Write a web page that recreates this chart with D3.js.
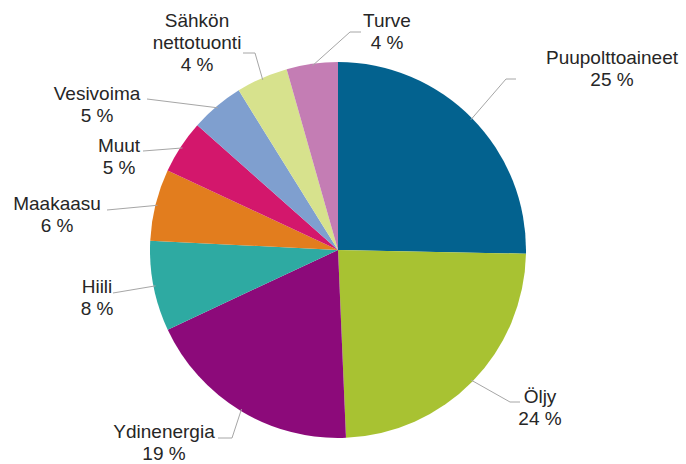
<!DOCTYPE html>
<html>
<head>
<meta charset="utf-8">
<script src="https://cdn.jsdelivr.net/npm/d3@7"></script>
<style>
  html, body { margin: 0; padding: 0; background: #fff; }
  svg text { font-family: "Liberation Sans", Arial, sans-serif; font-size: 19px; fill: #262626; }
</style>
</head>
<body>
<div id="chart"></div>
<script>
// energy sources, clockwise from 12 o'clock
const categories = ["Puupolttoaineet", "Öljy", "Ydinenergia", "Hiili", "Maakaasu", "Muut", "Vesivoima", "Sähkön\nnettotuonti", "Turve"];
const shares = [25.3, 24.0, 18.7, 7.75, 6.15, 4.6, 4.6, 4.45, 4.4];
const colors = ["#03628f", "#a8c232", "#8c0a7a", "#2eaaa2", "#e27d1e", "#d3176c", "#7f9fcf", "#d7e28d", "#c47db4"];

// label anchor (text centre, first baseline) and leader end, relative to pie centre
const labelPos = [
  { tx: 274, ty: -186, ex: 178, ey: -171, elbow: -10 },
  { tx: 202, ty: 153, ex: 182, ey: 152, elbow: -10 },
  { tx: -174, ty: 188, ex: -120, ey: 188, elbow: 14 },
  { tx: -241, ty: 43, ex: -225, ey: 43, elbow: 0 },
  { tx: -281, ty: -40, ex: -231, ey: -40, elbow: 0 },
  { tx: -219, ty: -98, ex: -195, ey: -99, elbow: 0 },
  { tx: -241, ty: -150, ex: -191, ey: -151, elbow: 0 },
  { tx: -141, ty: -223, ex: -95, ey: -197, elbow: 12 },
  { tx: 49, ty: -223, ex: 23, ey: -218, elbow: -11 }
];

const width = 686, height = 464;
const cx = 338, cy = 250, radius = 188;
const lineH = 22;

const svg = d3.select("#chart").append("svg")
  .attr("width", width)
  .attr("height", height);

const g = svg.append("g").attr("transform", `translate(${cx},${cy})`);

const pie = d3.pie().sort(null).value((d) => d.value);
const arc = d3.arc().innerRadius(0).outerRadius(radius);
const edge = d3.arc().innerRadius(radius - 2).outerRadius(radius - 2);

const data = pie(categories.map((c, i) => ({ name: c, value: shares[i], color: colors[i], pos: labelPos[i] })));

g.selectAll("path.slice")
  .data(data)
  .enter()
  .append("path")
  .attr("class", "slice")
  .attr("d", arc)
  .attr("fill", (d) => d.data.color);

// leader lines
g.selectAll("polyline.leader")
  .data(data)
  .enter()
  .append("polyline")
  .attr("class", "leader")
  .attr("points", (d) => {
    const p = d.data.pos;
    const start = edge.centroid(d);
    const pts = [start];
    if (p.elbow !== 0) pts.push([p.ex + p.elbow, p.ey]);
    pts.push([p.ex, p.ey]);
    return pts.map((q) => q.join(",")).join(" ");
  })
  .attr("fill", "none")
  .attr("stroke", "#a6a6a6")
  .attr("stroke-width", 1);

// labels
const labels = g.selectAll("text.label")
  .data(data)
  .enter()
  .append("text")
  .attr("class", "label")
  .attr("text-anchor", "middle");

labels.each(function (d) {
  const lines = d.data.name.split("\n").concat([Math.round(d.data.value) + " %"]);
  const t = d3.select(this);
  lines.forEach((s, k) => {
    t.append("tspan")
      .attr("x", d.data.pos.tx)
      .attr("y", d.data.pos.ty + k * lineH)
      .text(s);
  });
});
</script>
</body>
</html>
